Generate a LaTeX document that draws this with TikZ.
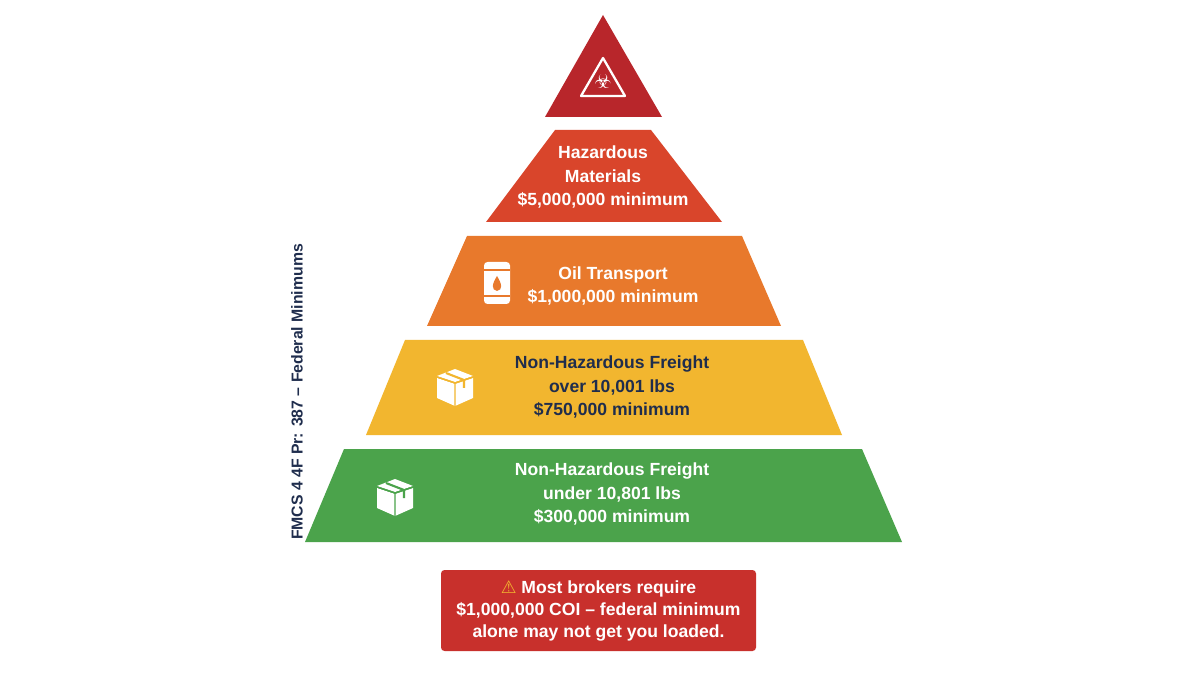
\documentclass[tikz,border=0pt]{standalone}
\usepackage{fontspec}
\setmainfont{Liberation Sans}
\newfontfamily\symf{DejaVu Sans}
\definecolor{tred}{HTML}{B8262B}
\definecolor{tone}{HTML}{D9452B}
\definecolor{ttwo}{HTML}{E8792C}
\definecolor{tthree}{HTML}{F2B62F}
\definecolor{tfour}{HTML}{4BA34B}
\definecolor{navy}{HTML}{1F2D4D}
\definecolor{boxred}{HTML}{C8302C}
\begin{document}
\begin{tikzpicture}[x=0.02cm,y=-0.02cm,
  lbl/.style={font=\bfseries\fontsize{10}{13.6}\selectfont,align=center,text=white},
  tier/.style={draw=none}]
\useasboundingbox (0,0) rectangle (1200,675);
\fill[white] (0,0) rectangle (1200,675);
% top
\fill[tred] (603,15) -- (662,117) -- (545,117) -- cycle;
\draw[white,line width=1.3pt,line join=round] (603,58) -- (625,96) -- (581,96) -- cycle;
\node[text=white,font=\symf\fontsize{11}{11}\selectfont] (haz) at (603,81) {☣};
% tiers
\fill[tone] (555,130) -- (651,130) -- (722,222) -- (486,222) -- cycle;
\fill[ttwo] (467,236) -- (742,236) -- (781,326) -- (427,326) -- cycle;
\fill[tthree] (405,340) -- (803,340) -- (842,435) -- (366,435) -- cycle;
\fill[tfour] (344,449) -- (862,449) -- (902,542) -- (305,542) -- cycle;
\node[lbl] (t1) at (603,177) {Hazardous\\Materials\\\$5,000,000 minimum};
\node[lbl] (t2) at (613,286) {Oil Transport\\\$1,000,000 minimum};
\node[lbl,text=navy] (t3) at (612,387) {Non-Hazardous Freight\\over 10,001 lbs\\\$750,000 minimum};
\node[lbl] (t4) at (612,494) {Non-Hazardous Freight\\under 10,801 lbs\\\$300,000 minimum};
% barrel
\fill[white,rounded corners=2pt] (484,262) rectangle (510,304);
\draw[ttwo,line width=1pt] (484,270) -- (510,270) (484,296) -- (510,296);
\fill[ttwo] (497,276) .. controls (492,284) and (491,290) .. (497,291) .. controls (503,290) and (502,284) .. (497,276);
% boxes
\foreach \cx/\cy/\c in {455/386/tthree,395/496/tfour}{
  \fill[white] (\cx-18,\cy-8) -- (\cx,\cy-2) -- (\cx,\cy+20) -- (\cx-18,\cy+12) -- cycle;
  \fill[white] (\cx,\cy-2) -- (\cx+18,\cy-8) -- (\cx+18,\cy+12) -- (\cx,\cy+20) -- cycle;
  \fill[white] (\cx-18,\cy-10) -- (\cx,\cy-17) -- (\cx+18,\cy-10) -- (\cx,\cy-4) -- cycle;
  \draw[\c,line width=0.8pt] (\cx-18,\cy-9) -- (\cx,\cy-3) -- (\cx+18,\cy-9) (\cx,\cy-3) -- (\cx,\cy+20);
  \draw[\c,line width=1.2pt] (\cx-9,\cy-13) -- (\cx+9,\cy-6) -- (\cx+9,\cy+2);
}
% vertical label
\node[rotate=90,font=\bfseries\fontsize{9}{11}\selectfont,text=navy] (side) at (297,392) {FMCS 4 4F Pr: 387 – Federal Minimums};
% note
\node[fill=boxred,rounded corners=2pt,minimum width=315*0.02cm,minimum height=81*0.02cm,lbl,font=\bfseries\fontsize{10}{12.5}\selectfont] (note) at (598.5,610.5)
 {{\symf\textcolor{tthree}{⚠}} Most brokers require\\\$1,000,000 COI – federal minimum\\alone may not get you loaded.};
\end{tikzpicture}
\end{document}
